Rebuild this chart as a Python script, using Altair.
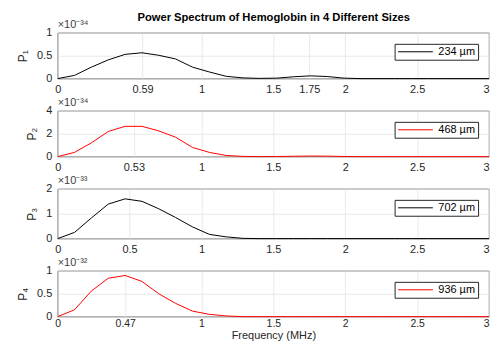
import altair as alt
import pandas as pd

freqs = [0.0, 0.117, 0.234, 0.352, 0.469, 0.586, 0.703, 0.820, 0.938, 1.055,
         1.172, 1.289, 1.406, 1.523, 1.641, 1.758, 1.875, 1.992, 2.109, 2.227,
         2.344, 2.461, 2.578, 2.695, 2.813, 2.930, 3.0]

# values in units of the panel's exponent
p1 = [0, 0.07, 0.25, 0.41, 0.53, 0.565, 0.51, 0.43, 0.25, 0.145,
      0.05, 0.015, 0.005, 0.01, 0.04, 0.06, 0.045, 0.01, 0, 0,
      0, 0, 0, 0, 0, 0, 0]
p2 = [0, 0.37, 1.2, 2.2, 2.65, 2.65, 2.25, 1.7, 0.8, 0.37,
      0.1, 0.02, 0, 0.01, 0.03, 0.05, 0.04, 0.01, 0, 0,
      0, 0, 0, 0, 0, 0, 0]
p3 = [0, 0.25, 0.83, 1.39, 1.6, 1.5, 1.2, 0.85, 0.47, 0.17,
      0.07, 0.01, 0, 0, 0, 0, 0, 0, 0, 0,
      0, 0, 0, 0, 0, 0, 0]
p4 = [0, 0.15, 0.56, 0.84, 0.9, 0.77, 0.5, 0.29, 0.12, 0.05,
      0.015, 0, 0, 0, 0, 0, 0, 0, 0, 0,
      0, 0, 0, 0, 0, 0, 0]

series = [p1, p2, p3, p4]
exponents = ["×10⁻³⁴", "×10⁻³⁴", "×10⁻³³", "×10⁻³²"]
ylabels = ["P₁", "P₂", "P₃", "P₄"]
ymax = [1, 4, 2, 1]
yticks = [[0, 0.5, 1], [0, 2, 4], [0, 1, 2], [0, 0.5, 1]]
xticks = [[0, 0.59, 1, 1.5, 1.75, 2, 2.5, 3],
          [0, 0.53, 1, 1.5, 2, 2.5, 3],
          [0, 0.5, 1, 1.5, 2, 2.5, 3],
          [0, 0.47, 1, 1.5, 2, 2.5, 3]]
sizes = ["234 µm", "468 µm", "702 µm", "936 µm"]
colors = ["#000000", "#ff0000", "#000000", "#ff0000"]
heights = [46, 46, 50, 46]

FONT = "Liberation Sans"
DARK = "#262626"

panels = []
for i in range(4):
    df = pd.DataFrame({"f": freqs, "p": series[i], "s": sizes[i]})
    last = i == 3
    ch = alt.Chart(df).mark_line(strokeWidth=1).encode(
        x=alt.X("f:Q", scale=alt.Scale(domain=[0, 3], nice=False),
                title="Frequency (MHz)" if last else "",
                axis=alt.Axis(values=xticks[i], labelExpr="'' + datum.value",
                              labelFlush=False,
                              labelAlign={"condition": {"test": "datum.value >= 3",
                                                        "value": "right"},
                                          "value": "center"},
                              labelFontSize=10.5 if last else 11,
                              labelPadding=2 if last else 5)),
        y=alt.Y("p:Q", scale=alt.Scale(domain=[0, ymax[i]], nice=False),
                title=ylabels[i],
                axis=alt.Axis(values=yticks[i], labelExpr="'' + datum.value")),
        color=alt.Color("s:N", scale=alt.Scale(range=[colors[i]]),
                        legend=alt.Legend(title=None, orient="top-right", offset=11,
                                          symbolType="stroke", symbolSize=1225,
                                          symbolStrokeWidth=1, clipHeight=10,
                                          fillColor="white", strokeColor=DARK,
                                          padding=3, labelFontSize=11,
                                          labelFont=FONT, labelColor="#000000",
                                          labelOffset=5, cornerRadius=0)),
    ).properties(
        width=434, height=heights[i],
        title=alt.TitleParams(exponents[i], anchor="start", frame="group",
                              fontSize=11, fontWeight="normal", color="#404040",
                              font=FONT, offset=-3),
    )
    panels.append(ch)

chart = alt.vconcat(*panels, spacing=32.5, bounds="flush").resolve_scale(
    color="independent"
).properties(
    title=alt.TitleParams("Power Spectrum of Hemoglobin in 4 Different Sizes",
                          fontSize=11.25, fontWeight="bold", font=FONT,
                          color="#000000", anchor="middle", offset=-5, dx=20),
    padding={"left": 8, "top": 3, "right": 0, "bottom": 0},
).configure_view(
    stroke=DARK, strokeWidth=0.8
).configure_axis(
    labelFont=FONT, labelFontSize=11, labelColor=DARK,
    titleFont=FONT, titleFontSize=12, titleFontWeight="normal", titleColor=DARK,
    gridColor="#e3e3e3", gridWidth=0.8, domain=False, ticks=False,
    labelPadding=6, titlePadding=7,
).configure_axisX(
    titleFontSize=11, titlePadding=1
)

chart.save("out.html", embed_options={"renderer": "svg", "actions": False})
